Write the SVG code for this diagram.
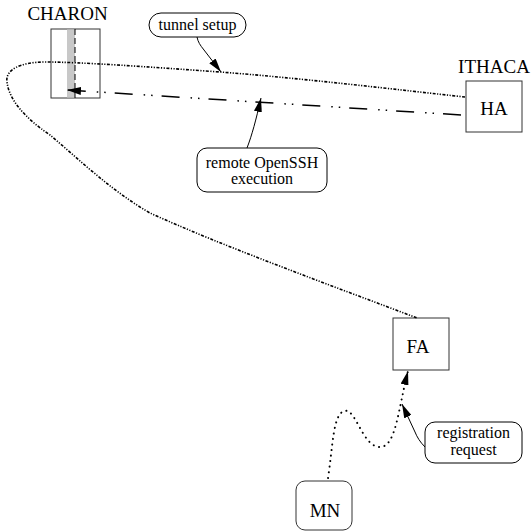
<svg xmlns="http://www.w3.org/2000/svg" width="531" height="531" viewBox="0 0 531 531">
<style>
text{font-family:"Liberation Serif","Times New Roman",serif;fill:#000}
.n{font-size:19px}
.l{font-size:16px}
.box{fill:#fff;stroke:#333;stroke-width:1}
.lbl{fill:#fff;stroke:#000;stroke-width:1}
.ptr{fill:none;stroke:#000;stroke-width:1}
</style>
<defs>
<marker id="ah2" viewBox="0 0 14 8" refX="14" refY="4" markerWidth="14" markerHeight="8" markerUnits="userSpaceOnUse" orient="auto">
<path d="M0,0 L14,4 L0,8 Z" fill="#000"/>
</marker>
</defs>
<g id="charon">
<rect class="box" x="51" y="29" width="49" height="69"/>
<rect x="67" y="29.5" width="8" height="68" fill="#c8c8c8"/>
<line x1="75" y1="29" x2="75" y2="98" stroke="#000" stroke-width="1" stroke-dasharray="6 3"/>
<text class="n" x="67.5" y="20" text-anchor="middle">CHARON</text>
</g>
<g id="ithaca">
<rect class="box" x="466" y="81" width="56" height="51"/>
<text class="n" x="494" y="73" text-anchor="middle">ITHACA</text>
<text class="n" x="494" y="115" text-anchor="middle">HA</text>
</g>
<g id="fa">
<rect class="box" x="393" y="318" width="56" height="52"/>
<text class="n" x="418" y="353" text-anchor="middle">FA</text>
</g>
<g id="mn">
<rect class="box" x="296" y="481" width="56" height="49" rx="9"/>
<text class="n" x="325" y="517" text-anchor="middle">MN</text>
</g>
<g id="connectors">
<path d="M465,97 C400,90 300,78 220,72 C150,67 80,62 45,62 C20,62 5,70 7,82 C9,100 25,118 50,135 C80,160 110,190 150,213 C220,245 330,285 417,318" fill="none" stroke="#000" stroke-width="1.6" stroke-dasharray="3 1.5 1.2 1.5 1.2 1.5"/>
<line x1="461" y1="115" x2="67" y2="90" stroke="#000" stroke-width="1.5" stroke-dasharray="18 9 1.5 6 1.5 11" marker-end="url(#ah2)"/>
<path d="M328,478 C333,445 333,415 344,411 C356,407 362,447 380,447 C396,447 398,410 408,371" fill="none" stroke="#000" stroke-width="2" stroke-linecap="round" stroke-dasharray="0.1 5.5" marker-end="url(#ah2)"/>
<path class="ptr" d="M197,37 C198,42 200,45 204,50 L221,72" marker-end="url(#ah2)"/>
<path class="ptr" d="M247,148 C252,135 256,120 261,98" marker-end="url(#ah2)"/>
<path class="ptr" d="M425,447 C420,442 417,437 415,432 L402,404" marker-end="url(#ah2)"/>
</g>
<g id="tunnel-setup">
<rect class="lbl" x="149" y="13" width="97" height="24" rx="12"/>
<text class="l" x="197.5" y="30" text-anchor="middle">tunnel setup</text>
</g>
<g id="remote-openssh">
<rect class="lbl" x="197" y="148" width="130" height="44" rx="10"/>
<text class="l" x="262" y="168" text-anchor="middle">remote OpenSSH</text>
<text class="l" x="262" y="184" text-anchor="middle">execution</text>
</g>
<g id="registration-request">
<rect class="lbl" x="425" y="422" width="97" height="41" rx="10"/>
<text class="l" x="473.5" y="438" text-anchor="middle">registration</text>
<text class="l" x="473.5" y="455" text-anchor="middle">request</text>
</g>
</svg>
